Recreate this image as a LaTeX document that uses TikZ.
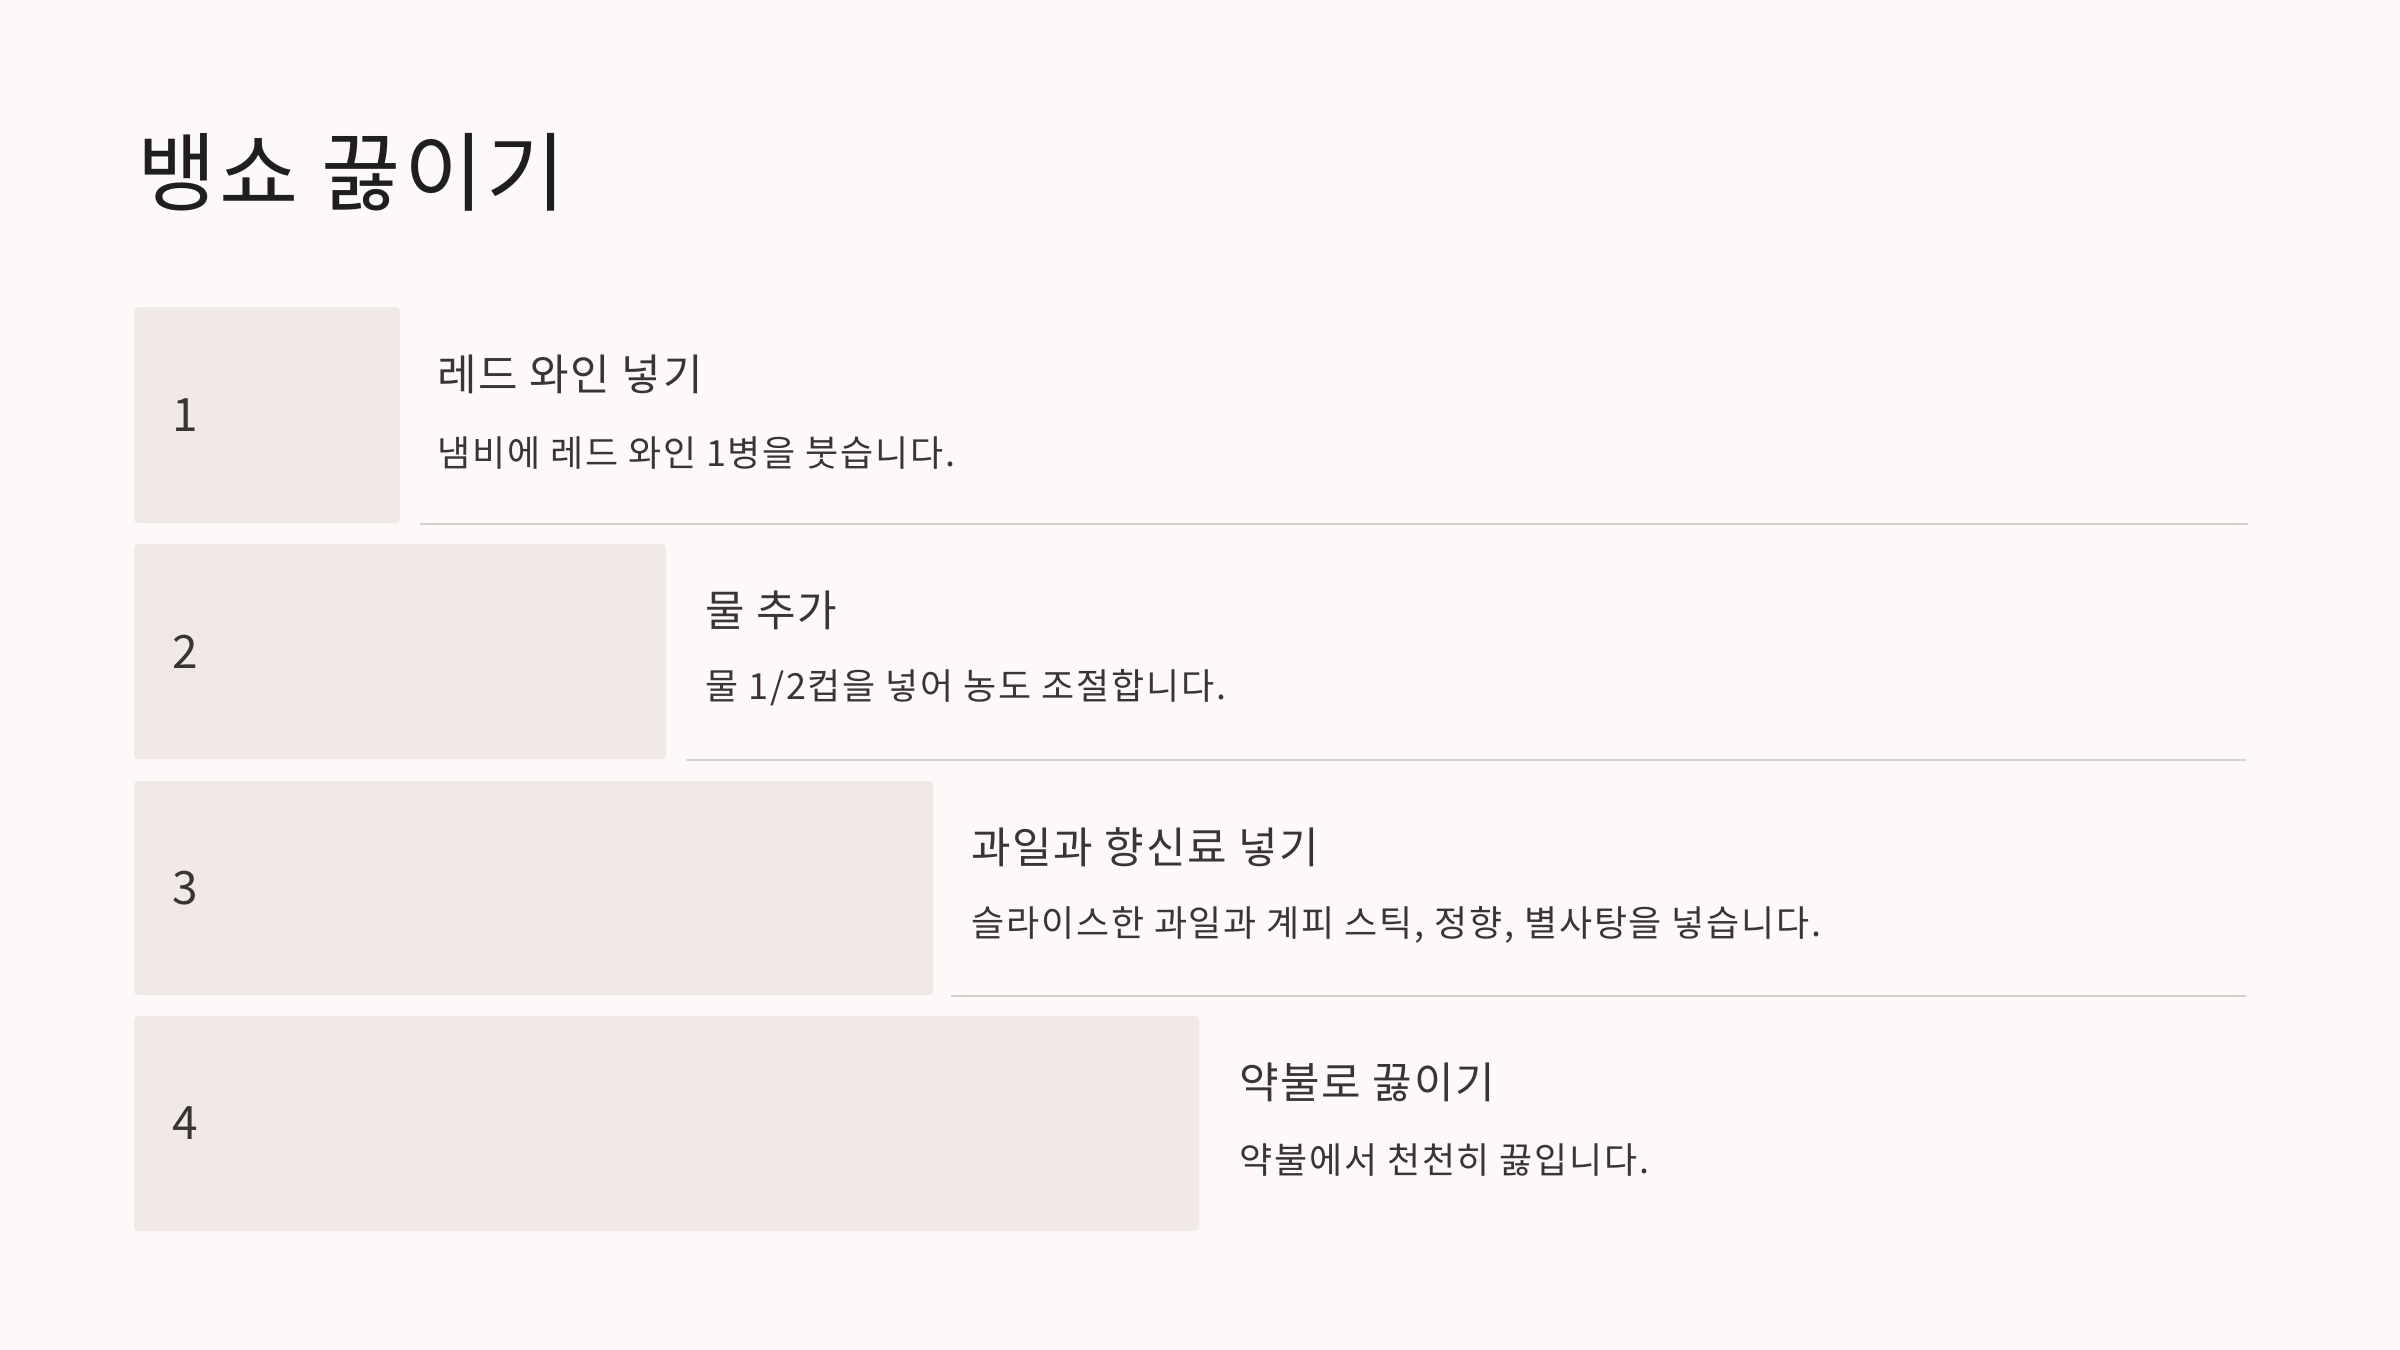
\documentclass[tikz,border=0pt]{standalone}
\usepackage{fontspec}
\setmainfont{Noto Sans CJK KR}
\newfontfamily\krfont{Noto Sans CJK KR}
\newfontfamily\krtitle{Noto Sans CJK KR}[LetterSpace=4]
\newfontfamily\krhead{Noto Sans CJK KR}[LetterSpace=4]
\newfontfamily\krdesc{Noto Sans CJK KR}[LetterSpace=5]
\definecolor{bg}{HTML}{FDF9F8}
\definecolor{boxfill}{HTML}{F1E8E8}
\definecolor{rule}{HTML}{D8CFCF}
\definecolor{titlecol}{HTML}{1F1F1F}
\definecolor{textcol}{HTML}{3A3535}
\tikzset{
  stepbox/.style={fill=boxfill, draw=none, rounded corners=2pt},
  divider/.style={draw=rule, line width=1pt},
  numlabel/.style={anchor=west, inner sep=0pt, text=textcol, font=\krfont\fontsize{23}{27}\selectfont},
  headlabel/.style={anchor=west, inner sep=0pt, text=textcol, font=\krhead\fontsize{21.5}{26}\selectfont},
  desclabel/.style={anchor=west, inner sep=0pt, text=textcol, font=\krdesc\fontsize{18}{21}\selectfont},
  titlelabel/.style={anchor=west, inner sep=0pt, text=titlecol, font=\krtitle\fontsize{43}{50}\selectfont},
}
\begin{document}
\begin{tikzpicture}[x=0.5pt,y=-0.5pt]
\fill[bg] (0,0) rectangle (2400,1350);
\useasboundingbox (0,0) rectangle (2400,1350);

\node[titlelabel] (title) at (137,172) {뱅쇼 끓이기};

% step 1
\path[stepbox] (134,307) rectangle (400,523);
\node[numlabel] (n1) at (172,415) {1};
\node[headlabel] (h1) at (437,374.5) {레드 와인 넣기};
\node[desclabel] (d1) at (437,453) {냄비에 레드 와인 1병을 붓습니다.};
\coordinate (l1a) at (420,523.5);
\coordinate (l1b) at (2248,523.5);
\draw[divider] (l1a) -- (l1b);

% step 2
\path[stepbox] (134,544) rectangle (666,759);
\node[numlabel] (n2) at (172,651.5) {2};
\node[headlabel] (h2) at (705,610) {물 추가};
\node[desclabel] (d2) at (705,688) {물 1/2컵을 넣어 농도 조절합니다.};
\coordinate (l2a) at (686,760);
\coordinate (l2b) at (2246,760);
\draw[divider] (l2a) -- (l2b);

% step 3
\path[stepbox] (134,781) rectangle (933,995);
\node[numlabel] (n3) at (172,888) {3};
\node[headlabel] (h3) at (971,847) {과일과 향신료 넣기};
\node[desclabel] (d3) at (971,925) {슬라이스한 과일과 계피 스틱, 정향, 별사탕을 넣습니다.};
\coordinate (l3a) at (951,996);
\coordinate (l3b) at (2246,996);
\draw[divider] (l3a) -- (l3b);

% step 4
\path[stepbox] (134,1016) rectangle (1199,1231);
\node[numlabel] (n4) at (172,1123.5) {4};
\node[headlabel] (h4) at (1239,1082) {약불로 끓이기};
\node[desclabel] (d4) at (1239,1160) {약불에서 천천히 끓입니다.};
\end{tikzpicture}
\end{document}
